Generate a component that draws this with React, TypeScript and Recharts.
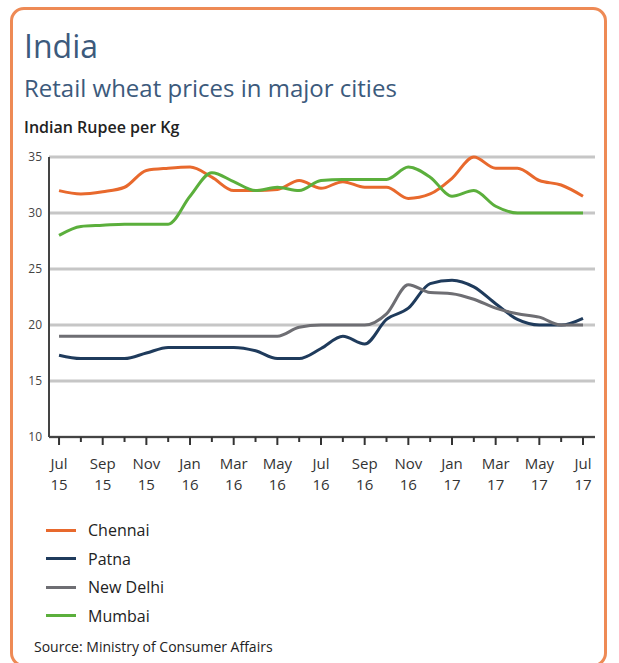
import { LineChart, Line, XAxis, YAxis, CartesianGrid } from "recharts";

const months = ["Jul", "Aug", "Sep", "Oct", "Nov", "Dec", "Jan", "Feb", "Mar", "Apr", "May", "Jun", "Jul", "Aug", "Sep", "Oct", "Nov", "Dec", "Jan", "Feb", "Mar", "Apr", "May", "Jun", "Jul"];
const years = ["15", "15", "15", "15", "15", "15", "16", "16", "16", "16", "16", "16", "16", "16", "16", "16", "16", "16", "17", "17", "17", "17", "17", "17", "17"];

const chennai = [32, 31.7, 31.9, 32.3, 33.8, 34, 34.1, 33.2, 32, 32, 32.1, 32.9, 32.2, 32.8, 32.3, 32.3, 31.3, 31.7, 33.1, 35, 34, 34, 32.9, 32.5, 31.5];
const patna = [17.3, 17, 17, 17, 17.5, 18, 18, 18, 18, 17.7, 17, 17, 17.9, 19, 18.3, 20.5, 21.5, 23.7, 24, 23.4, 21.9, 20.5, 20, 20, 20.6];
const newDelhi = [19, 19, 19, 19, 19, 19, 19, 19, 19, 19, 19, 19.8, 20, 20, 20, 21, 23.6, 22.9, 22.8, 22.3, 21.5, 21, 20.7, 20, 20];
const mumbai = [28, 28.8, 28.9, 29, 29, 29, 31.5, 33.6, 32.8, 32, 32.3, 32, 32.9, 33, 33, 33, 34.1, 33.2, 31.5, 32, 30.6, 30, 30, 30, 30];

const yTicks = [10, 15, 20, 25, 30, 35];

const SERIES = [
	{ key: "chennai", name: "Chennai", color: "#E8692D" },
	{ key: "patna", name: "Patna", color: "#1F3B5C" },
	{ key: "newDelhi", name: "New Delhi", color: "#6E6E73" },
	{ key: "mumbai", name: "Mumbai", color: "#5BAF3C" },
];

const data = months.map((m, i) => ({
	idx: i,
	chennai: chennai[i],
	patna: patna[i],
	newDelhi: newDelhi[i],
	mumbai: mumbai[i],
}));

const FONT = "'Open Sans', 'Noto Sans', sans-serif";

function MonthTick({ x, y, payload }: { x?: number; y?: number; payload?: { value: number } }) {
	const i = payload?.value ?? 0;
	const major = i % 2 === 0;
	return (
		<g>
			<line x1={x} x2={x} y1={y} y2={(y ?? 0) + (major ? 8 : 5)} stroke="#333" strokeWidth={2} />
			{major && (
				<text textAnchor="middle" fontFamily={FONT} fontSize={15} fill="#333">
					<tspan x={x} y={(y ?? 0) + 32}>{months[i]}</tspan>
					<tspan x={x} y={(y ?? 0) + 53}>{years[i]}</tspan>
				</text>
			)}
		</g>
	);
}

export default function App() {
	return (
		<div style={{ position: "absolute", left: 0, top: 0, width: 619, height: 663, background: "#fff", fontFamily: FONT }}>
			<div
				style={{
					position: "absolute",
					left: 10,
					top: 7,
					width: 597,
					height: 660,
					border: "3px solid #EE8A55",
					borderRadius: 14,
					boxSizing: "border-box",
				}}
			/>
			<div style={{ position: "absolute", left: 24, top: 27, fontSize: 32, color: "#3C5A7C", lineHeight: "38px" }}>India</div>
			<div style={{ position: "absolute", left: 24, top: 73, fontSize: 24, color: "#3C5A7C", lineHeight: "30px" }}>
				Retail wheat prices in major cities
			</div>
			<div style={{ position: "absolute", left: 24, top: 117, fontSize: 16, fontWeight: 600, color: "#222", lineHeight: "20px" }}>
				Indian Rupee per Kg
			</div>

			<div style={{ position: "absolute", left: 0, top: 140 }}>
				<LineChart width={619} height={380} data={data} margin={{ top: 17, right: 24, bottom: 0, left: 0 }}>
					<CartesianGrid vertical={false} stroke="#c6c6c6" strokeWidth={3} />
					<XAxis
						dataKey="idx"
						type="number"
						domain={[-0.46, 24.55]}
						ticks={months.map((_, i) => i)}
						interval={0}
						allowDataOverflow
						height={83}
						tickSize={0}
						tickMargin={0}
						tickLine={false}
						axisLine={{ stroke: "#444", strokeWidth: 2 }}
						tick={<MonthTick />}
					/>
					<YAxis
						domain={[10, 35]}
						ticks={yTicks}
						width={49}
						tickSize={0}
						tickMargin={7}
						tickLine={false}
						axisLine={{ stroke: "#444", strokeWidth: 2 }}
						tick={{ fontSize: 12, fill: "#444", fontFamily: FONT }}
					/>
					{SERIES.map((s) => (
						<Line
							key={s.key}
							dataKey={s.key}
							type="monotone"
							stroke={s.color}
							strokeWidth={3}
							dot={false}
							isAnimationActive={false}
						/>
					))}
				</LineChart>
			</div>

			<div style={{ position: "absolute", left: 46, top: 516 }}>
				{SERIES.map((s) => (
					<div key={s.key} style={{ display: "flex", alignItems: "center", height: 28.5 }}>
						<span style={{ display: "inline-block", width: 30, height: 3, background: s.color, marginRight: 12 }} />
						<span style={{ fontSize: 16, color: "#222" }}>{s.name}</span>
					</div>
				))}
			</div>
			<div style={{ position: "absolute", left: 34, top: 637, fontSize: 14, color: "#222" }}>
				Source: Ministry of Consumer Affairs
			</div>
		</div>
	);
}
